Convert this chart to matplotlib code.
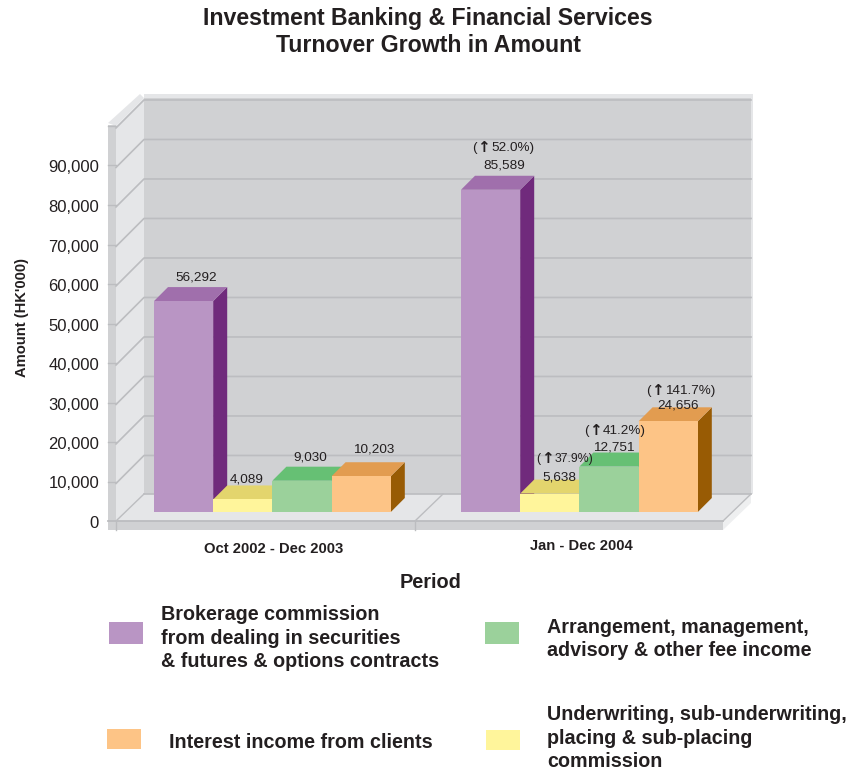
import matplotlib
matplotlib.use('Agg')
import matplotlib.pyplot as plt
from matplotlib.patches import Polygon, Rectangle

periods = ['Oct 2002 - Dec 2003', 'Jan - Dec 2004']
series_names = [
    'Brokerage commission\nfrom dealing in securities\n& futures & options contracts',
    'Underwriting, sub-underwriting,\nplacing & sub-placing\ncommission',
    'Arrangement, management,\nadvisory & other fee income',
    'Interest income from clients',
]
brokerage = [56292, 85589]
underwriting = [4089, 5638]
arrangement = [9030, 12751]
interest = [10203, 24656]
growth_2004 = ['52.0%)', '37.9%)', '41.2%)', '141.7%)']
y_ticks = [0, 10000, 20000, 30000, 40000, 50000, 60000, 70000, 80000, 90000]

plt.rcParams['font.family'] = ['Liberation Sans', 'DejaVu Sans']
INK = '#231f20'
WALL = '#d0d1d3'
LIGHT = '#e5e6e8'
GRID = '#bcbdc0'

# bar colours: front, top, side
colors = [
    ('#b995c4', '#a06fac', '#702a7c'),
    ('#fff59b', '#e3d56d', '#a89a3c'),
    ('#9bd19b', '#66c074', '#3f8f4f'),
    ('#fdc486', '#e29c50', '#985b04'),
]

W, H = 848, 773
fig = plt.figure(figsize=(W / 100, H / 100), dpi=100)


def value_axes(base_px, px_per_unit, z):
    # full-figure axes: x runs in pixels, y in HK'000 with zero at base_px
    a = fig.add_axes([0, 0, 1, 1], zorder=z)
    a.set_xlim(0, W)
    a.set_ylim(-(H - base_px) / px_per_unit, base_px / px_per_unit)
    a.axis('off')
    a.patch.set_alpha(0)
    return a


# frame of the 3D box, value scale of the front plane
GRID_K = 0.00395
FRONT = 521
ax = value_axes(FRONT, GRID_K, 1)


def py(p):
    return (FRONT - p) / GRID_K


def poly(a, pts, color, **kw):
    a.add_patch(Polygon(pts, closed=True, facecolor=color, edgecolor='none', **kw))


DEPTH = 28
top = 100000
left, right, back_l, back_r = 116, 723, 144, 751
# back wall, top band, side wall, left strip
poly(ax, [(back_l, py(94)), (back_r + 2, py(94)), (back_r + 2, py(494)), (back_l, py(494))], LIGHT)
poly(ax, [(108, py(123)), (140, py(94)), (back_l, py(98)), (116, py(126))], LIGHT)
ax.add_patch(Rectangle((back_l, py(494)), back_r - back_l, py(98) - py(494), facecolor=WALL, edgecolor='none'))
poly(ax, [(left, top), (back_l, py(98)), (back_l, py(494)), (left, 0)], LIGHT)
ax.add_patch(Rectangle((108, py(530)), 8, py(125) - py(530), facecolor=WALL, edgecolor='none'))

# floor with its front strip
poly(ax, [(left, 0), (back_l, py(494)), (back_r, py(494)), (right, 0)], LIGHT)
poly(ax, [(right, 0), (back_r, py(494)), (back_r, py(503)), (right, py(530))], '#eeeff0')
ax.add_patch(Rectangle((108, py(530)), right - 108, py(521) - py(530), facecolor=WALL, edgecolor='none'))
ax.plot([108, right], [0, 0], color=GRID, lw=1.3)
ax.plot([right, back_r], [0, py(494)], color=GRID, lw=1.0)
for x in [left, 415]:
    ax.plot([x, x], [0, py(530)], color=GRID, lw=1.0)
    ax.plot([x, x + DEPTH], [0, py(494)], color=GRID, lw=1.0)

# gridlines run along the side wall and then the back wall
for v in y_ticks[1:] + [top]:
    ax.plot([108, left], [v, v], color=GRID, lw=1.0)
    ax.plot([left, back_l, back_r], [v - 500, v - 500 + DEPTH / GRID_K, v - 500 + DEPTH / GRID_K], color=GRID, lw=1.2)
ax.plot([back_l, back_r], [py(494), py(494)], color=GRID, lw=1.2)

# bars stand further back on the floor, so they get their own value scale
BAR_K = 0.0038
BASE = 515
FLOOR = 3 / BAR_K  # value at which a bar meets the floor
bx = value_axes(BASE, BAR_K, 2)
BAR_W = 59.2
BAR_DX, BAR_DY = 14, 14 / BAR_K
group_left = [154, 461]
all_series = [brokerage, underwriting, arrangement, interest]

for g, gx in enumerate(group_left):
    for s, values in enumerate(all_series):
        v = values[g]
        x0 = gx + s * BAR_W
        x1 = x0 + BAR_W
        front, cap, side = colors[s]
        poly(bx, [(x1, FLOOR), (x1 + BAR_DX, FLOOR + BAR_DY), (x1 + BAR_DX, v + BAR_DY), (x1, v)], side)
        poly(bx, [(x0, v), (x0 + BAR_DX, v + BAR_DY), (x1 + BAR_DX, v + BAR_DY), (x1, v)], cap)
        bx.bar(x0, v - FLOOR, bottom=FLOOR, width=BAR_W, align='edge', color=front, linewidth=0)


def label(x, y, text, **kw):
    # text placed in figure pixels, y measured from the top
    fig.text(x / W, 1 - (y + 2) / H, text, ha=kw.pop('ha', 'center'), va=kw.pop('va', 'center'),
             color=kw.pop('color', INK), zorder=10, **kw)


for v in y_ticks:
    label(99, (FRONT - v * GRID_K) + 0.5, f'{v:,}', ha='right', fontsize=12)

# value labels, per group in series order
value_pos = [
    [(196, 275), (247, 477), (310, 456), (374, 448)],
    [(504, 164), (559, 475), (614, 445), (678, 404)],
]
for g in range(2):
    for s, values in enumerate(all_series):
        x, y = value_pos[g][s]
        label(x, y, f'{values[g]:,}', fontsize=9.7)

# growth notes: bracket, heavy arrow, then the percentage
growth_pos = [(473, 146), (537, 457), (585, 429), (647, 389)]
growth_size = [9.7, 8.8, 9.7, 9.7]
for (x, y), pct, size in zip(growth_pos, growth_2004, growth_size):
    label(x - 1, y, '(', ha='left', fontsize=size)
    label(x + 10.5, y - 0.5, '\u2191', family='DejaVu Sans', fontweight='bold', fontsize=11)
    label(x + 18, y, pct, ha='left', fontsize=size)

label(428, 16, 'Investment Banking & Financial Services', fontsize=16.7, fontweight='bold')
label(428, 44, 'Turnover Growth in Amount', fontsize=16.7, fontweight='bold')
label(22, 316, "Amount (HK'000)", fontsize=10.6, fontweight='bold', rotation=90)
label(274, 547, periods[0], fontsize=10.6, fontweight='bold')
label(581, 544, periods[1], fontsize=10.6, fontweight='bold')
label(431, 581, 'Period', fontsize=14.4, fontweight='bold')

# legend, laid out by hand in two uneven rows
swatches = [(109, 622, 34, 22), (486, 730, 34, 20), (485, 622, 34, 22), (107, 729, 34, 20)]
text_pos = [(161, 636), (547, 736), (547, 637), (169, 740)]
for s, name in enumerate(series_names):
    x, y, w, h = swatches[s]
    fig.add_artist(Rectangle((x / W, 1 - (y + h) / H), w / W, h / H, transform=fig.transFigure,
                             facecolor=colors[s][0], edgecolor='none'))
    tx, ty = text_pos[s]
    label(tx, ty, name, ha='left', fontsize=14.2, fontweight='bold', linespacing=1.33)

fig.savefig('out.png', dpi=100)
